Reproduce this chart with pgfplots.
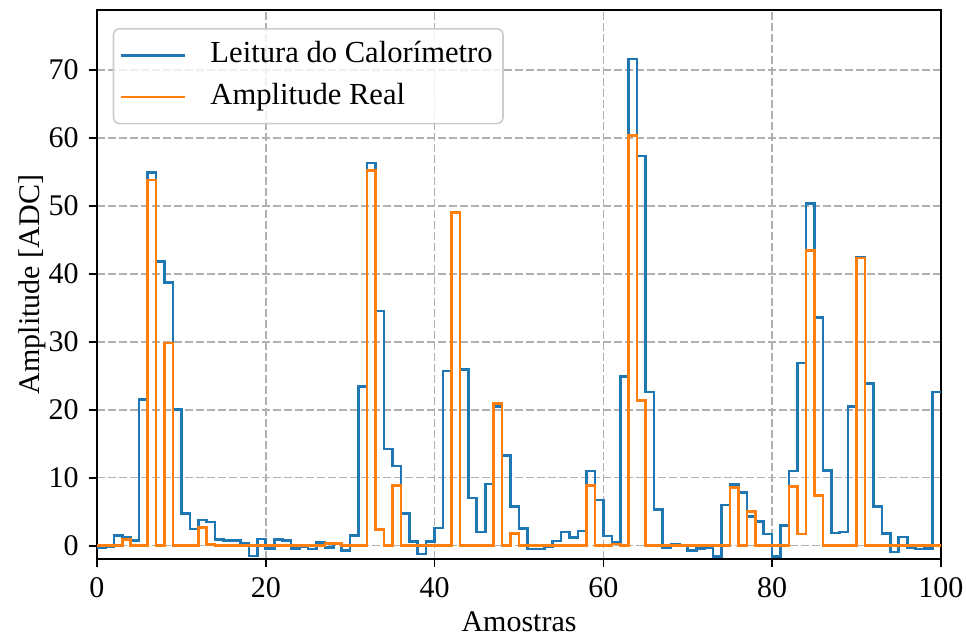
\documentclass[border=0pt]{standalone}
\usepackage{fontspec}
\setmainfont{Liberation Serif}
\usepackage{pgfplots}
\pgfplotsset{compat=1.18}
\usepackage{pgfplotstable}
\definecolor{mblue}{HTML}{1F77B4}
\definecolor{morange}{HTML}{FF7F0E}
\definecolor{gridgray}{HTML}{B0B0B0}
\definecolor{legedge}{HTML}{CCCCCC}

\pgfplotstableread{
x blue orange
0 -0.25 0
1 -0.2 0
2 1.5 0
3 1.25 0.9
4 0.8 0
5 21.5 0
6 54.9 53.8
7 41.8 0
8 38.7 29.8
9 20.0 0
10 4.7 0
11 2.45 0
12 3.8 2.7
13 3.5 0.2
14 0.9 0
15 0.8 0
16 0.75 0
17 0.4 0
18 -1.5 0
19 1.0 0
20 -0.4 0
21 0.9 0
22 0.8 0
23 -0.4 0
24 -0.2 0
25 -0.5 0
26 0.5 0
27 -0.25 0.3
28 0.25 0.3
29 -0.7 0
30 1.5 0
31 23.4 0
32 56.3 55.2
33 34.5 2.35
34 14.2 0
35 11.7 8.9
36 4.7 0
37 0.65 0
38 -1.2 0
39 0.65 0
40 2.6 0
41 25.7 0
42 49.0 49.0
43 25.9 0
44 7.0 0
45 2.0 0
46 9.1 0
47 20.5 20.9
48 13.3 0
49 5.75 1.8
50 2.5 0
51 -0.5 0
52 -0.5 0
53 -0.15 0
54 0.7 0
55 2.0 0
56 1.2 0
57 2.15 0
58 11.0 8.9
59 6.7 0
60 1.45 0
61 0.5 0.25
62 24.9 0
63 71.6 60.3
64 57.3 21.4
65 22.6 0
66 5.3 0
67 -0.35 0
68 0.15 0
69 0.0 0
70 -0.7 0
71 -0.45 0
72 -0.25 0
73 -1.55 0
74 6.0 0
75 9.0 8.6
76 7.85 0
77 4.3 5.0
78 3.6 0
79 1.7 0
80 -1.6 0
81 2.95 0
82 11.0 8.7
83 26.9 1.7
84 50.3 43.4
85 33.6 7.4
86 11.1 0
87 1.9 0
88 2.0 0
89 20.5 0
90 42.4 42.35
91 23.9 0
92 5.8 0
93 1.8 0
94 -0.9 0
95 1.3 0
96 -0.25 0
97 -0.5 0
98 -0.45 0
99 22.6 0
100 22.6 0
}\data

\begin{document}
\fontsize{15}{18}\selectfont
\begin{tikzpicture}
\begin{axis}[
  scale only axis,
  width=422pt, height=274.5pt,
  xmin=0, xmax=100, ymin=-1.95, ymax=78.8,
  xtick={0,20,...,100}, ytick={0,10,...,70},
  grid=major,
  major grid style={gridgray, line width=0.75pt, dash pattern=on 3.8pt off 1.7pt},
  tick align=outside, tick pos=left,
  major tick length=4pt,
  every tick/.style={black, line width=0.85pt},
  axis line style={line width=0.85pt},
  /pgf/number format/assume math mode=true,
  ticklabel style={font=\fontsize{15}{18}\selectfont},
  label style={font=\fontsize{15}{18}\selectfont},
  xlabel={Amostras},
  ylabel={Amplitude [ADC]},
  every axis x label/.style={at={(axis description cs:0.5,-0.1312)}, anchor=base},
  every axis y label/.style={at={(axis description cs:-0.0770,0.5)}, rotate=90, anchor=center},
  no marks,
  legend cell align=left,
  legend style={
    at={(axis description cs:0.0186,0.9672)}, anchor=north west,
    draw=legedge, line width=0.8pt, rounded corners=3pt,
    fill=white, fill opacity=0.8, text opacity=1,
    inner xsep=3.2pt, inner ysep=4.5pt,
    row sep=2.8pt, column sep=10pt,
    nodes={inner sep=2pt, text height=10.5pt, text depth=3.3pt},
    font=\fontsize{15.3}{18}\selectfont,
  },
  legend image code/.code={\draw[#1] (0pt,0pt) -- (32pt,0pt);},
]
\addplot[const plot, mblue, line width=1.3pt] table[x=x,y=blue]{\data};
\addlegendentry{Leitura do Calorímetro}
\addplot[const plot, morange, line width=1.3pt] table[x=x,y=orange]{\data};
\addlegendentry{Amplitude Real}
\end{axis}
\pgfresetboundingbox
\path[use as bounding box] (-48.5pt,-38.5pt) rectangle (434.5pt,279.5pt);
\end{tikzpicture}
\end{document}
